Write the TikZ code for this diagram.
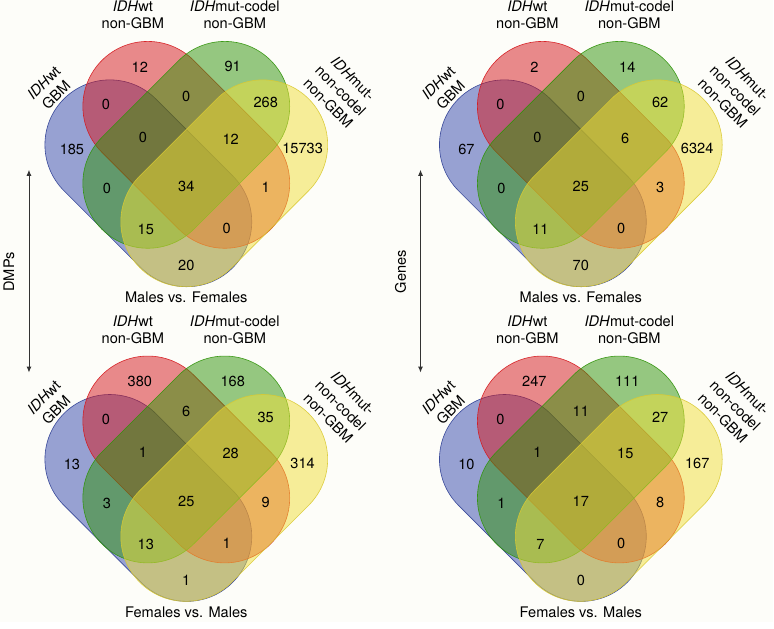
\documentclass[tikz,border=0pt]{standalone}
\usepackage{fontspec}
\setmainfont{TeX Gyre Heros}
\usepackage{xcolor}
\usepackage{tikz}
\usetikzlibrary{arrows.meta}

\definecolor{paper}{RGB}{253,253,249}
\definecolor{gbmblue}{RGB}{51,71,172}
\definecolor{wtred}{RGB}{213,23,28}
\definecolor{codelgreen}{RGB}{47,147,8}
\definecolor{noncodelyellow}{RGB}{241,223,56}

\begin{document}
\begin{tikzpicture}[
  x=1pt, y=-1pt,
  font=\fontsize{14.6}{17.5}\selectfont,
  set/.style={rectangle, inner sep=0pt, line width=0.6pt,
    minimum width=239, minimum height=130, rounded corners=65pt,
    fill opacity=0.5, draw opacity=0.9},
  gbm set/.style={set, fill=gbmblue, draw=gbmblue!85!black, rotate=-45},
  wt set/.style={set, fill=wtred, draw=wtred, rotate=-45},
  codel set/.style={set, fill=codelgreen, draw=codelgreen, rotate=45},
  noncodel set/.style={set, fill=noncodelyellow,
    draw=noncodelyellow!90!black, rotate=45},
  category/.style={align=center, inner sep=0pt},
  count/.style={inner sep=1pt},
  side/.style={{Latex[length=6pt,width=5pt]}-{Latex[length=6pt,width=5pt]},
    line width=0.9pt, draw=black!80},
  venn/.pic={
    \node[gbm set] (-gbm) at (148.5,183.5) {};
    \node[wt set] (-wt) at (186.5,145) {};
    \node[codel set] (-codel) at (186.5,145) {};
    \node[noncodel set] (-noncodel) at (224.5,183.5) {};
    \node[category, rotate=45] (-gbm label) at (50,89) {\textit{IDH}wt\\GBM};
    \node[category] (-wt label) at (133,15) {\textit{IDH}wt\\non-GBM};
    \node[category] (-codel label) at (235,15) {\textit{IDH}mut-codel\\non-GBM};
    \node[category, rotate=-45] (-noncodel label) at (341,91)
      {\textit{IDH}mut-\\non-codel\\non-GBM};
    \foreach \x/\y [count=\i] in {72/150, 140/67, 233/67, 303/149, 106/105,
        186.5/97, 266/103, 143/138, 231/139, 186.5/187, 107/189, 266/188,
        146/230, 227/229, 186.5/266}
      \coordinate (-p\i) at (\x,\y);
    \foreach \n [count=\i] in {#1}
      \node[count] (-n\i) at (-p\i) {\n};
  }
]
\fill[paper] (0,0) rectangle (774,623);

\pic (mdmp) at (0,0) {venn={185,12,91,15733,0,0,268,0,12,34,0,1,15,0,20}};
\pic (mgene) at (395,0) {venn={67,2,14,6324,0,0,62,0,6,25,0,3,11,0,70}};
\pic (fdmp) at (0,315) {venn={13,380,168,314,0,6,35,1,28,25,3,9,13,1,1}};
\pic (fgene) at (395,315) {venn={10,247,111,167,0,11,27,1,15,17,1,8,7,0,0}};

\node[count] (mdmp title) at (186.5,298) {Males vs. Females};
\node[count] (mgene title) at (581.5,298) {Males vs. Females};
\node[count] (fdmp title) at (186.5,613) {Females vs. Males};
\node[count] (fgene title) at (581.5,613) {Females vs. Males};

\coordinate (dmp top) at (29,170);
\coordinate (dmp bottom) at (29,373);
\draw[side] (dmp top) -- (dmp bottom);
\node[rotate=90] (dmp label) at (9,272) {DMPs};

\coordinate (gene top) at (421,170);
\coordinate (gene bottom) at (421,373);
\draw[side] (gene top) -- (gene bottom);
\node[rotate=90] (gene label) at (401,272) {Genes};
\end{tikzpicture}
\end{document}
